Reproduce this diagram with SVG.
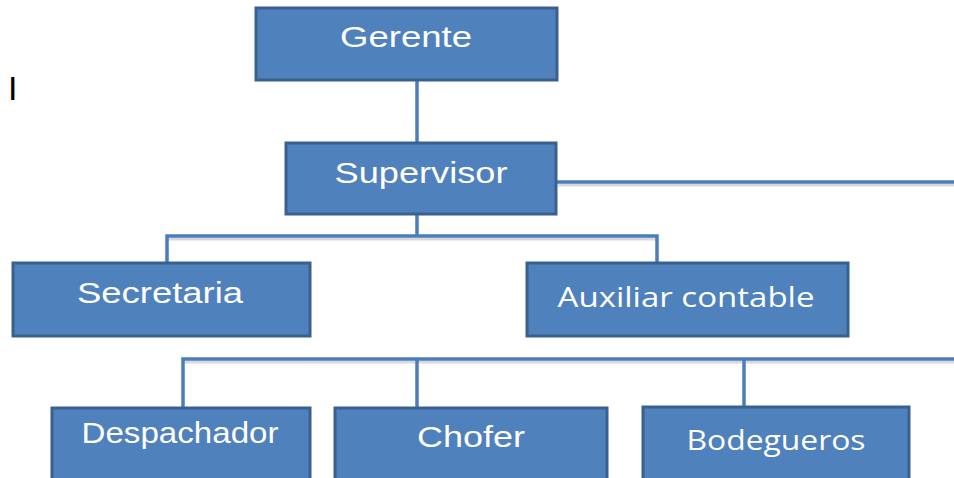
<svg xmlns="http://www.w3.org/2000/svg" width="954" height="478" viewBox="0 0 954 478">
<style>
.box{fill:#4f81bd;stroke:#3a6090;stroke-width:3}
.lbl{fill:#ffffff;font-family:"Liberation Sans",Arial,sans-serif;font-size:30px;text-anchor:middle}
.lbl2{fill:#ffffff;font-family:"Open Sans","Liberation Sans",sans-serif;font-size:27px;text-anchor:middle}
.con{fill:none;stroke:#4a7ebb;stroke-width:3.5}
.sh{fill:none;stroke:#d8d8d8;stroke-width:3}
</style>
<rect width="954" height="478" fill="#ffffff"/>
<text x="8" y="100" font-family="Liberation Sans,Arial,sans-serif" font-size="34" fill="#000">I</text>
<g id="connectors">
<path class="sh" d="M558 185 H954 M167 239 H657 M183 362 H954"/>
<path class="con" d="M417 80 V143"/>
<path class="con" d="M556 182 H954"/>
<path class="con" d="M417 214 V236 M167 263 V236 H657 V263"/>
<path class="con" d="M183 408 V359 H954 M417 359 V408 M744 359 V408"/>
</g>
<g id="gerente"><rect class="box" x="256" y="8" width="301" height="72"/><text class="lbl" x="406" y="47" textLength="132" lengthAdjust="spacingAndGlyphs">Gerente</text></g>
<g id="supervisor"><rect class="box" x="286" y="143" width="270" height="71"/><text class="lbl" x="421" y="183" textLength="173" lengthAdjust="spacingAndGlyphs">Supervisor</text></g>
<g id="secretaria"><rect class="box" x="13" y="263" width="297" height="73"/><text class="lbl" x="160" y="303" textLength="166" lengthAdjust="spacingAndGlyphs">Secretaria</text></g>
<g id="auxiliar"><rect class="box" x="527" y="263" width="321" height="73"/><text class="lbl2" x="686" y="307" textLength="257" lengthAdjust="spacingAndGlyphs">Auxiliar contable</text></g>
<g id="despachador"><rect class="box" x="52" y="408" width="258" height="80"/><text class="lbl" x="180" y="443" textLength="197" lengthAdjust="spacingAndGlyphs">Despachador</text></g>
<g id="chofer"><rect class="box" x="335" y="408" width="272" height="80"/><text class="lbl" x="471" y="447" textLength="108" lengthAdjust="spacingAndGlyphs">Chofer</text></g>
<g id="bodegueros"><rect class="box" x="643" y="407" width="266" height="80"/><text class="lbl2" x="776" y="450" textLength="179" lengthAdjust="spacingAndGlyphs">Bodegueros</text></g>
</svg>
